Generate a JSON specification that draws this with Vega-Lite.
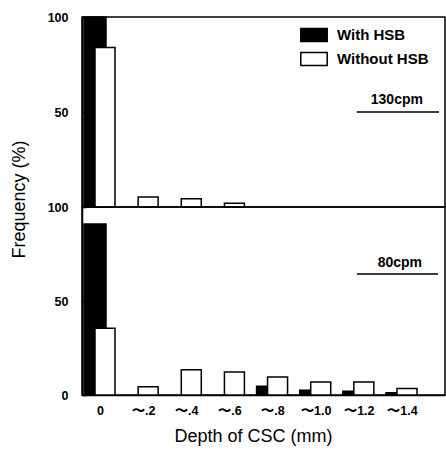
{
  "$schema": "https://vega.github.io/schema/vega-lite/v6.json",
  "padding": {"left": 9, "top": 10, "right": 0, "bottom": 0},
  "bounds": "flush",
  "spacing": 0,
  "background": "white",
  "config": {
    "font": "Liberation Sans",
    "view": {"stroke": "black", "strokeWidth": 1.5},
    "axis": {
      "grid": false,
      "ticks": false,
      "domain": true,
      "domainColor": "black",
      "domainWidth": 1.5,
      "labelColor": "black",
      "titleColor": "black",
      "labelFont": "Liberation Sans",
      "titleFont": "Liberation Sans",
      "labelFontWeight": "bold",
      "labelFontSize": 12.5,
      "titleFontWeight": "normal",
      "titleFontSize": 18
    }
  },
  "data": {
    "values": [
      {"panel": "130cpm", "depth": "0", "group": "With HSB", "value": 100},
      {"panel": "130cpm", "depth": "0", "group": "Without HSB", "value": 84},
      {"panel": "130cpm", "depth": "〜.2", "group": "Without HSB", "value": 5.3},
      {"panel": "130cpm", "depth": "〜.4", "group": "Without HSB", "value": 4.4},
      {"panel": "130cpm", "depth": "〜.6", "group": "Without HSB", "value": 2},
      {"panel": "80cpm", "depth": "0", "group": "With HSB", "value": 91},
      {"panel": "80cpm", "depth": "〜.8", "group": "With HSB", "value": 4.6},
      {"panel": "80cpm", "depth": "〜1.0", "group": "With HSB", "value": 2.5},
      {"panel": "80cpm", "depth": "〜1.2", "group": "With HSB", "value": 2},
      {"panel": "80cpm", "depth": "〜1.4", "group": "With HSB", "value": 1.2},
      {"panel": "80cpm", "depth": "0", "group": "Without HSB", "value": 35.5},
      {"panel": "80cpm", "depth": "〜.2", "group": "Without HSB", "value": 4.4},
      {"panel": "80cpm", "depth": "〜.4", "group": "Without HSB", "value": 13.4},
      {"panel": "80cpm", "depth": "〜.6", "group": "Without HSB", "value": 12.2},
      {"panel": "80cpm", "depth": "〜.8", "group": "Without HSB", "value": 9.6},
      {"panel": "80cpm", "depth": "〜1.0", "group": "Without HSB", "value": 6.9},
      {"panel": "80cpm", "depth": "〜1.2", "group": "Without HSB", "value": 6.9},
      {"panel": "80cpm", "depth": "〜1.4", "group": "Without HSB", "value": 3.5}
    ]
  },
  "resolve": {"scale": {"color": "independent"}, "legend": {"color": "independent"}},
  "vconcat": [
    {
      "width": 363,
      "height": 190,
      "layer": [
        {
          "transform": [{"filter": "datum.panel === '130cpm' && datum.group === 'With HSB'"}],
          "mark": {"type": "bar", "width": 22, "xOffset": -5, "stroke": "black", "strokeWidth": 1.5},
          "encoding": {
            "x": {"field": "depth", "type": "ordinal", "scale": {"type": "point", "domain": ["0", "〜.2", "〜.4", "〜.6", "〜.8", "〜1.0", "〜1.2", "〜1.4"], "padding": 0.707, "align": 0.295}, "axis": null},
            "y": {"field": "value", "type": "quantitative", "scale": {"domain": [0, 100], "nice": false}, "axis": {"values": [50, 100], "ticks": true, "tickSize": -4, "tickColor": "black", "tickWidth": 1.5, "labelPadding": 18, "title": "Frequency (%)", "titleX": -58, "titleY": 182, "titleBaseline": "alphabetic", "titleAngle": -90, "titleAlign": "center"}},
            "color": {"field": "group", "type": "nominal", "scale": {"domain": ["With HSB", "Without HSB"], "range": ["black", "white"]},
              "legend": {"orient": "none", "legendX": 219, "legendY": 5, "title": null, "symbolType": "M-1.1,-0.55H1.1V0.55H-1.1Z", "symbolSize": 576, "symbolStrokeColor": "black", "symbolStrokeWidth": 1.5, "symbolOpacity": 1, "labelFontSize": 15, "labelFontWeight": "bold", "labelColor": "black", "labelFont": "Liberation Sans", "labelOffset": 10, "rowPadding": 1, "padding": 0}}
          }
        },
        {
          "transform": [{"filter": "datum.panel === '130cpm' && datum.group === 'Without HSB'"}],
          "mark": {"type": "bar", "width": 20, "xOffset": 5, "stroke": "black", "strokeWidth": 1.5},
          "encoding": {
            "x": {"field": "depth", "type": "ordinal", "scale": {"type": "point", "domain": ["0", "〜.2", "〜.4", "〜.6", "〜.8", "〜1.0", "〜1.2", "〜1.4"], "padding": 0.707, "align": 0.295}, "axis": null},
            "y": {"field": "value", "type": "quantitative", "scale": {"domain": [0, 100], "nice": false}},
            "color": {"field": "group", "type": "nominal", "scale": {"domain": ["With HSB", "Without HSB"], "range": ["black", "white"]}}
          }
        },
        {
          "data": {"values": [{"label": "130cpm"}]},
          "mark": {"type": "text", "dx": 38, "fontSize": 14, "fontWeight": "bold", "font": "Liberation Sans", "color": "black", "align": "center", "baseline": "middle"},
          "encoding": {
            "x": {"datum": "〜1.2", "type": "ordinal"},
            "y": {"datum": 56.3, "type": "quantitative"},
            "text": {"field": "label"}
          }
        },
        {
          "data": {"values": [{"label": "130cpm"}]},
          "mark": {"type": "rule", "xOffset": -2, "x2Offset": 37, "strokeWidth": 1.5, "color": "black"},
          "encoding": {
            "x": {"datum": "〜1.2", "type": "ordinal"},
            "x2": {"datum": "〜1.4"},
            "y": {"datum": 50, "type": "quantitative"}
          }
        }
      ]
    },
    {
      "width": 363,
      "height": 188,
      "layer": [
        {
          "transform": [{"filter": "datum.panel === '80cpm' && datum.group === 'With HSB'"}],
          "mark": {"type": "bar", "width": 22, "xOffset": -5, "stroke": "black", "strokeWidth": 1.5},
          "encoding": {
            "x": {"field": "depth", "type": "ordinal", "scale": {"type": "point", "domain": ["0", "〜.2", "〜.4", "〜.6", "〜.8", "〜1.0", "〜1.2", "〜1.4"], "padding": 0.707, "align": 0.295},
              "axis": {"labelAngle": 0, "labelPadding": 9, "title": "Depth of CSC (mm)", "titlePadding": 11, "titleX": 171, "titleFontSize": 18}},
            "y": {"field": "value", "type": "quantitative", "scale": {"domain": [0, 100], "nice": false}, "axis": {"values": [0, 50, 100], "ticks": true, "tickSize": -4, "tickColor": "black", "tickWidth": 1.5, "labelPadding": 18, "title": null}},
            "color": {"field": "group", "type": "nominal", "scale": {"domain": ["With HSB", "Without HSB"], "range": ["black", "white"]}, "legend": null}
          }
        },
        {
          "transform": [{"filter": "datum.panel === '80cpm' && datum.group === 'Without HSB'"}],
          "mark": {"type": "bar", "width": 20, "xOffset": 5, "stroke": "black", "strokeWidth": 1.5},
          "encoding": {
            "x": {"field": "depth", "type": "ordinal", "scale": {"type": "point", "domain": ["0", "〜.2", "〜.4", "〜.6", "〜.8", "〜1.0", "〜1.2", "〜1.4"], "padding": 0.707, "align": 0.295}},
            "y": {"field": "value", "type": "quantitative", "scale": {"domain": [0, 100], "nice": false}},
            "color": {"field": "group", "type": "nominal", "scale": {"domain": ["With HSB", "Without HSB"], "range": ["black", "white"]}, "legend": null}
          }
        },
        {
          "data": {"values": [{"label": "80cpm"}]},
          "mark": {"type": "text", "dx": 41, "fontSize": 14, "fontWeight": "bold", "font": "Liberation Sans", "color": "black", "align": "center", "baseline": "middle"},
          "encoding": {
            "x": {"datum": "〜1.2", "type": "ordinal"},
            "y": {"datum": 70, "type": "quantitative"},
            "text": {"field": "label"}
          }
        },
        {
          "data": {"values": [{"label": "80cpm"}]},
          "mark": {"type": "rule", "xOffset": -2, "x2Offset": 36, "strokeWidth": 1.5, "color": "black"},
          "encoding": {
            "x": {"datum": "〜1.2", "type": "ordinal"},
            "x2": {"datum": "〜1.4"},
            "y": {"datum": 64.4, "type": "quantitative"}
          }
        }
      ]
    }
  ]
}
